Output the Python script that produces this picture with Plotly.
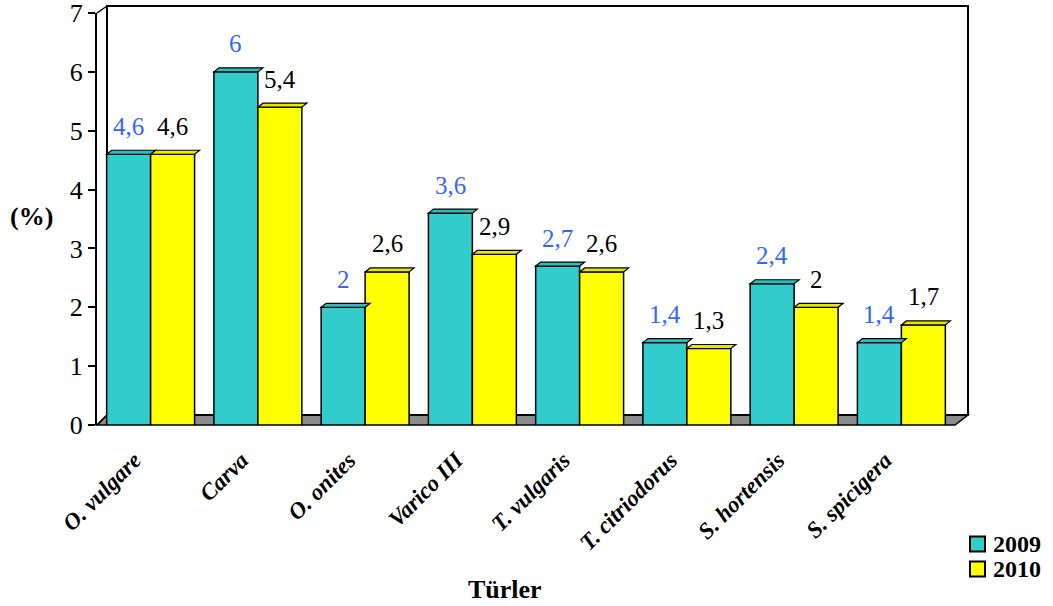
import plotly.graph_objects as go

# Data
species = ["O. vulgare", "Carva", "O. onites", "Varico III", "T. vulgaris",
           "T. citriodorus", "S. hortensis", "S. spicigera"]
y2009 = [4.6, 6.0, 2.0, 3.6, 2.7, 1.4, 2.4, 1.4]
y2010 = [4.6, 5.4, 2.6, 2.9, 2.6, 1.3, 2.0, 1.7]
y_ticks = [0, 1, 2, 3, 4, 5, 6, 7]
series_names = ["2009", "2010"]

SERIF = "Liberation Serif"
TEAL = "#33CCCC"
YELLOW = "#FFFF00"
TEAL_TOP = "#2fbcbc"
YELLOW_TOP = "#e6e600"
BAR_GAP = 0.18
HALF = (1 - BAR_GAP) / 2  # width of one bar in category units


def fmt(v):
    return f"{v:g}".replace(".", ",")


cat_labels = [f"<b><i>{s}</i></b>" + "&nbsp;" * 4 for s in species]

fig = go.Figure()
fig.add_trace(go.Bar(
    x=cat_labels, y=y2009, name=series_names[0],
    marker=dict(color=TEAL, line=dict(color="black", width=1.5)),
))
fig.add_trace(go.Bar(
    x=cat_labels, y=y2010, name=series_names[1],
    marker=dict(color=YELLOW, line=dict(color="black", width=1.5)),
))

# value labels above each bar
annotations = []
for c, v in zip(cat_labels, y2009):
    annotations.append(dict(x=c, y=v, xref="x", yref="y", text=fmt(v),
                            showarrow=False, xshift=-22, yshift=28,
                            font=dict(family=SERIF, size=25, color="#3366FF")))
for c, v in zip(cat_labels, y2010):
    annotations.append(dict(x=c, y=v, xref="x", yref="y", text=fmt(v),
                            showarrow=False, xshift=22, yshift=28,
                            font=dict(family=SERIF, size=25, color="black")))

# axis titles
annotations.append(dict(x=-0.0758, y=0.505, xref="paper", yref="paper", text="<b>(%)</b>",
                        xanchor="center", yanchor="middle",
                        showarrow=False, font=dict(family=SERIF, size=26, color="black")))
annotations.append(dict(x=0.4755, y=-0.4, xref="paper", yref="paper", text="<b>Türler</b>",
                        xanchor="center", yanchor="middle",
                        showarrow=False, font=dict(family=SERIF, size=26, color="black")))

# pseudo-3D back wall and floor
W, H = 858.0, 412.0
dx, dy = 10 / W, 10 / H
shapes = [
    dict(type="path", xref="paper", yref="paper",
         path=f"M 0 0 L {dx} {dy} L {1 + 13 / W} {dy} L 1 0 Z",
         fillcolor="#8c8c8c", line=dict(color="black", width=1.5), layer="below"),
    dict(type="rect", xref="paper", yref="paper",
         x0=dx, x1=1 + 13 / W, y0=dy, y1=1 + 7 / H,
         fillcolor="white", line=dict(color="black", width=2), layer="below"),
    dict(type="line", xref="paper", yref="paper", x0=0, y0=1, x1=dx, y1=1 + 7 / H,
         line=dict(color="black", width=1.5), layer="below"),
    dict(type="line", xref="paper", yref="paper", x0=0, y0=0, x1=dx, y1=dy,
         line=dict(color="black", width=1.5), layer="below"),
]

# top caps of the prisms, placed from the bar values on the category axis
cap_dx = 5 / (W / len(species))
cap_dy = 4 / (H / 7)
for i, (a, b) in enumerate(zip(y2009, y2010)):
    for x0, v, col in ((i - HALF, a, TEAL_TOP), (i, b, YELLOW_TOP)):
        x1 = x0 + HALF
        shapes.append(dict(
            type="path", xref="x", yref="y", layer="above",
            path=(f"M {x0} {v} L {x0 + cap_dx} {v + cap_dy} "
                  f"L {x1 + cap_dx} {v + cap_dy} L {x1} {v} Z"),
            fillcolor=col, line=dict(color="black", width=1.2)))

# legend: colour boxes with bold labels
legend_px = [544, 569]
for name, col, py in zip(series_names, (TEAL, YELLOW), legend_px):
    yy = (425 - py) / H
    shapes.append(dict(type="rect", xref="paper", yref="paper",
                       x0=(970 - 97) / W, x1=(985 - 97) / W,
                       y0=yy - 7.5 / H, y1=yy + 7.5 / H,
                       fillcolor=col, line=dict(color="black", width=2)))
    annotations.append(dict(x=(991 - 97) / W, y=yy, xref="paper", yref="paper",
                            text=f"<b>{name}</b>", xanchor="left", yanchor="middle",
                            showarrow=False,
                            font=dict(family=SERIF, size=24, color="black")))

fig.update_layout(
    width=1053, height=606,
    margin=dict(l=97, r=98, t=13, b=181, autoexpand=False),
    paper_bgcolor="white", plot_bgcolor="rgba(0,0,0,0)",
    barmode="group", bargap=BAR_GAP, bargroupgap=0.0,
    font=dict(family=SERIF, color="black"),
    showlegend=False,
    annotations=annotations,
    shapes=shapes,
)
fig.update_xaxes(
    tickangle=-45, tickfont=dict(family=SERIF, size=23, color="black"),
    showline=False, showgrid=False, ticks="", zeroline=False,
    ticklabelstandoff=0, automargin=False,
)
fig.update_yaxes(
    range=[0, 7], tickvals=y_ticks, ticktext=[str(t) for t in y_ticks],
    tickfont=dict(family=SERIF, size=26, color="black"),
    showline=True, linecolor="black", linewidth=2,
    ticks="outside", ticklen=7, tickwidth=2, tickcolor="black",
    showgrid=False, zeroline=False, automargin=False,
    ticklabeloverflow="allow",
)

fig.write_html("out.html")
